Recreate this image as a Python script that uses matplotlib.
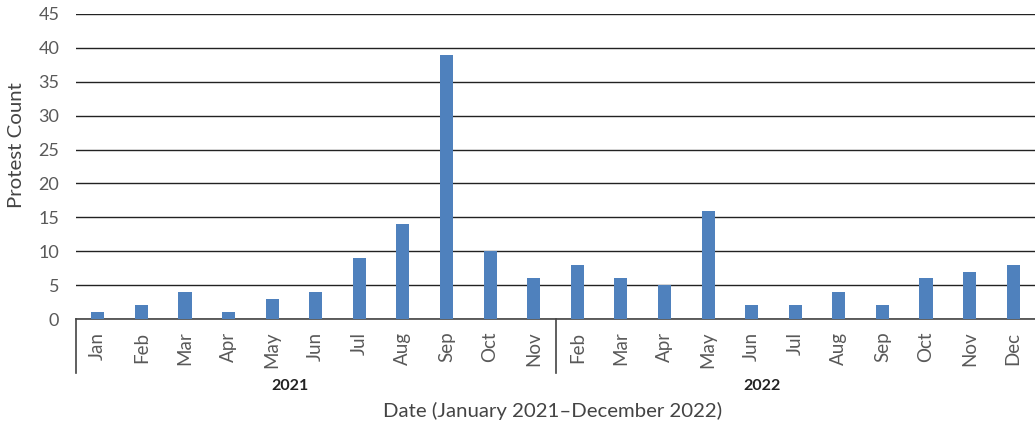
import matplotlib.pyplot as plt

# data
months_2021 = ["Jan", "Feb", "Mar", "Apr", "May", "Jun", "Jul", "Aug", "Sep", "Oct", "Nov"]
months_2022 = ["Feb", "Mar", "Apr", "May", "Jun", "Jul", "Aug", "Sep", "Oct", "Nov", "Dec"]
counts_2021 = [1, 2, 4, 1, 3, 4, 9, 14, 39, 10, 6]
counts_2022 = [8, 6, 5, 16, 2, 2, 4, 2, 6, 7, 8]
years = ["2021", "2022"]

labels = months_2021 + months_2022
counts = counts_2021 + counts_2022
x = list(range(len(labels)))

plt.rcParams['font.family'] = ['Lato', 'DejaVu Sans']

fig = plt.figure(figsize=(10.35, 4.23), dpi=100)
ax = fig.add_axes([76/1035, 104/423, 1 - 76/1035, 305/423])

ax.bar(x, counts, width=0.3, color="#4F81BD", zorder=3)

ax.set_xlim(-0.5, len(labels) - 0.5)
ax.set_ylim(0, 45)
ax.set_yticks(range(0, 46, 5))
ax.yaxis.grid(True, color="#222222", linewidth=1.0, zorder=0)
ax.tick_params(axis='y', length=0, labelsize=13, labelcolor="#595959", pad=12)

ax.set_xticks(x)
ax.set_xticklabels(labels, rotation=90, fontsize=13.5, color="#595959")
ax.tick_params(axis='x', length=0, pad=9)

for s in ["top", "right", "left"]:
    ax.spines[s].set_visible(False)
ax.spines["bottom"].set_color("#444444")
ax.spines["bottom"].set_linewidth(1.2)

# group separators below the axis
trans = ax.get_xaxis_transform()
n1 = len(months_2021)
for pos in [-0.5, n1 - 0.5]:
    ax.plot([pos, pos], [0, -0.177], transform=trans, color="#444444",
            linewidth=1.2, clip_on=False)

ax.text(4.4, -0.22, years[0], transform=trans, ha="center", va="center",
        fontsize=11.5, fontweight="bold", color="#222222")
ax.text(15.25, -0.22, years[1], transform=trans, ha="center", va="center",
        fontsize=11.5, fontweight="bold", color="#222222")

fig.text(553/1035, 1 - 411/423, "Date (January 2021\u2013December 2022)",
         ha="center", va="center", fontsize=14.7, color="#444444")
fig.text(17/1035, 1 - 145/423, "Protest Count", rotation=90,
         ha="center", va="center", fontsize=14.7, color="#444444")

fig.savefig("out.png", dpi=100)
